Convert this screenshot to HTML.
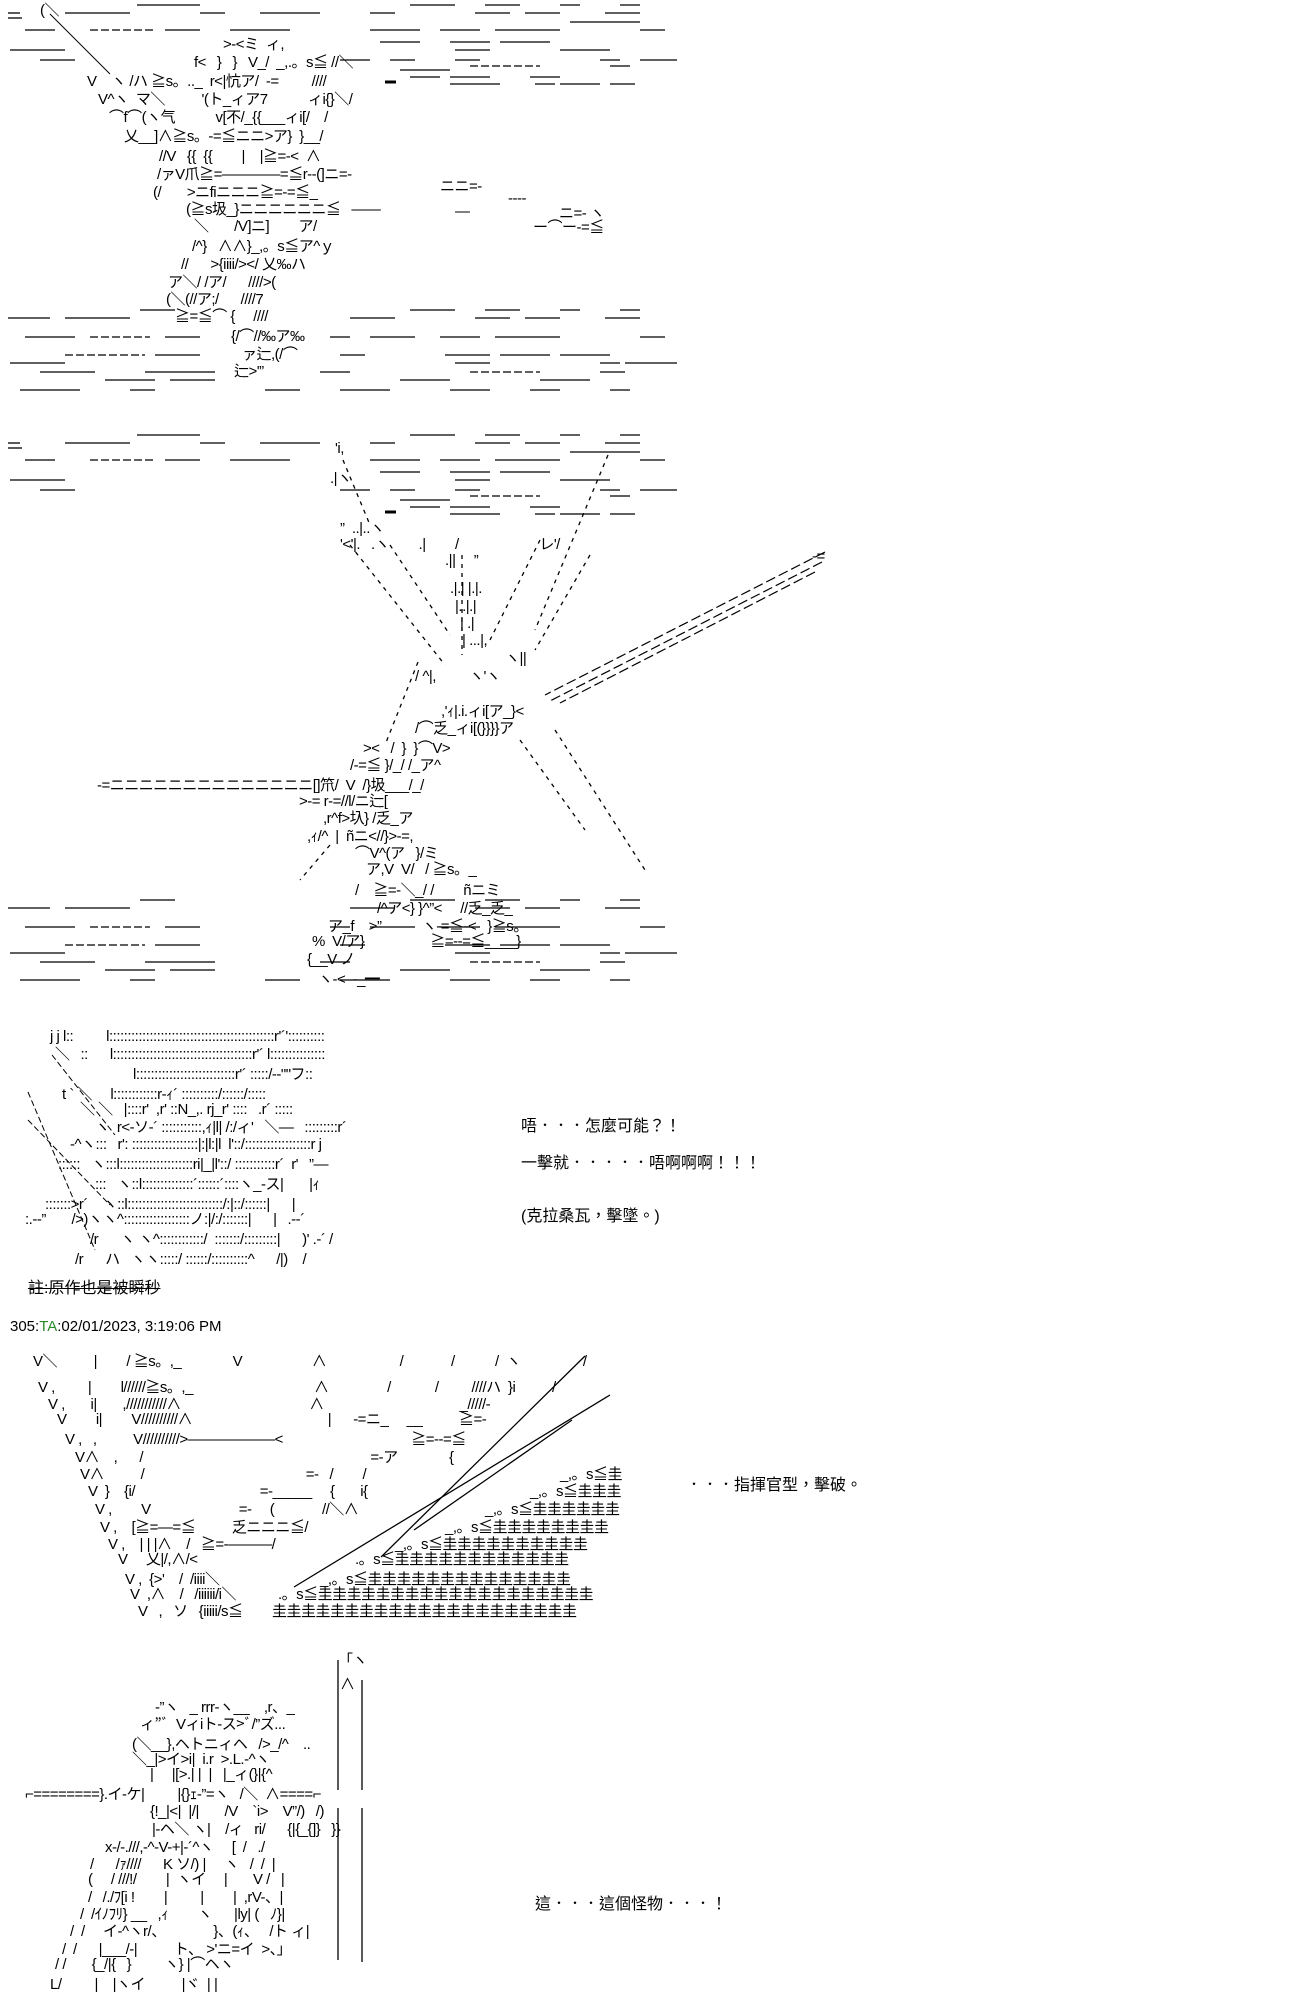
<!DOCTYPE html>
<html><head><meta charset="utf-8">
<style>
html,body{margin:0;padding:0;background:#fff;width:1300px;height:2000px;overflow:hidden}
body{position:relative}
.a{position:absolute;white-space:pre;font:15px/18px "Liberation Sans","Noto Sans CJK JP",sans-serif;color:#000;letter-spacing:-0.5px}
.t{position:absolute;white-space:pre;font:16px/20px "Liberation Sans","Noto Sans CJK TC",sans-serif;color:#000}
svg{position:absolute;left:0;top:0}
</style></head><body>
<svg width="1300" height="2000" stroke="#000" stroke-width="1.3" fill="none">
<g id="d1">
<line x1="137" y1="5" x2="200" y2="5"/><line x1="410" y1="5" x2="455" y2="5"/><line x1="485" y1="5" x2="520" y2="5"/><line x1="560" y1="5" x2="580" y2="5"/><line x1="620" y1="5" x2="640" y2="5"/>
<line x1="8" y1="13" x2="20" y2="13"/><line x1="65" y1="13" x2="130" y2="13"/><line x1="200" y1="13" x2="225" y2="13"/><line x1="260" y1="13" x2="320" y2="13"/><line x1="370" y1="13" x2="395" y2="13"/><line x1="475" y1="13" x2="510" y2="13"/><line x1="525" y1="13" x2="560" y2="13"/><line x1="605" y1="13" x2="640" y2="13"/>
<line x1="570" y1="22" x2="640" y2="22"/><line x1="8" y1="18" x2="22" y2="18"/>
<line x1="25" y1="30" x2="55" y2="30"/><line x1="90" y1="30" x2="155" y2="30" stroke-dasharray="8 3"/><line x1="165" y1="30" x2="200" y2="30"/><line x1="230" y1="30" x2="290" y2="30"/><line x1="370" y1="30" x2="420" y2="30"/><line x1="440" y1="30" x2="480" y2="30"/><line x1="495" y1="30" x2="560" y2="30"/><line x1="640" y1="30" x2="665" y2="30"/>
<line x1="380" y1="42" x2="420" y2="42"/><line x1="450" y1="42" x2="490" y2="42"/><line x1="500" y1="42" x2="550" y2="42"/>
<line x1="10" y1="50" x2="65" y2="50"/><line x1="455" y1="50" x2="490" y2="50"/><line x1="560" y1="50" x2="610" y2="50"/>
<line x1="40" y1="60" x2="75" y2="60"/><line x1="340" y1="60" x2="370" y2="60"/><line x1="390" y1="60" x2="415" y2="60"/><line x1="455" y1="60" x2="480" y2="60"/><line x1="600" y1="60" x2="620" y2="60"/><line x1="640" y1="60" x2="677" y2="60"/>
<line x1="400" y1="70" x2="450" y2="70"/><line x1="470" y1="66" x2="540" y2="66" stroke-dasharray="8 3"/><line x1="610" y1="66" x2="630" y2="66"/>
<line x1="410" y1="77" x2="440" y2="77"/><line x1="450" y1="77" x2="490" y2="77"/><line x1="530" y1="77" x2="560" y2="77"/>
<line x1="385" y1="82" x2="396" y2="82" stroke-width="3"/><line x1="450" y1="84" x2="500" y2="84"/><line x1="535" y1="84" x2="555" y2="84"/><line x1="560" y1="84" x2="600" y2="84"/><line x1="610" y1="84" x2="635" y2="84"/>
</g>
<g id="d2">
<line x1="140" y1="310" x2="175" y2="310"/><line x1="410" y1="310" x2="455" y2="310"/><line x1="485" y1="310" x2="520" y2="310"/><line x1="560" y1="310" x2="580" y2="310"/><line x1="620" y1="310" x2="640" y2="310"/>
<line x1="8" y1="318" x2="50" y2="318"/><line x1="65" y1="318" x2="130" y2="318"/><line x1="350" y1="318" x2="395" y2="318"/><line x1="475" y1="318" x2="510" y2="318"/><line x1="525" y1="318" x2="560" y2="318"/><line x1="605" y1="318" x2="640" y2="318"/>
<line x1="25" y1="337" x2="75" y2="337"/><line x1="90" y1="337" x2="150" y2="337" stroke-dasharray="8 3"/><line x1="165" y1="337" x2="200" y2="337"/><line x1="330" y1="337" x2="350" y2="337"/><line x1="370" y1="337" x2="415" y2="337"/><line x1="440" y1="337" x2="480" y2="337"/><line x1="495" y1="337" x2="560" y2="337"/><line x1="640" y1="337" x2="665" y2="337"/>
<line x1="65" y1="355" x2="145" y2="355" stroke-dasharray="8 3"/><line x1="155" y1="355" x2="200" y2="355"/><line x1="340" y1="355" x2="365" y2="355"/><line x1="445" y1="355" x2="490" y2="355"/><line x1="500" y1="355" x2="550" y2="355"/><line x1="560" y1="355" x2="610" y2="355"/>
<line x1="10" y1="363" x2="65" y2="363"/><line x1="455" y1="363" x2="490" y2="363"/><line x1="600" y1="363" x2="620" y2="363"/><line x1="625" y1="363" x2="677" y2="363"/>
<line x1="40" y1="372" x2="95" y2="372"/><line x1="145" y1="372" x2="215" y2="372"/><line x1="320" y1="372" x2="350" y2="372"/><line x1="470" y1="372" x2="540" y2="372" stroke-dasharray="8 3"/><line x1="600" y1="372" x2="625" y2="372"/>
<line x1="105" y1="380" x2="155" y2="380"/><line x1="170" y1="380" x2="215" y2="380"/><line x1="400" y1="380" x2="450" y2="380"/><line x1="540" y1="380" x2="590" y2="380"/>
<line x1="20" y1="390" x2="80" y2="390"/><line x1="130" y1="390" x2="155" y2="390"/><line x1="265" y1="390" x2="300" y2="390"/><line x1="340" y1="390" x2="390" y2="390"/><line x1="450" y1="390" x2="490" y2="390"/><line x1="530" y1="390" x2="560" y2="390"/><line x1="610" y1="390" x2="630" y2="390"/>
</g>
<use href="#d1" x="0" y="430"/>
<use href="#d2" x="0" y="590"/>
<line x1="50" y1="14" x2="110" y2="74" stroke-width="1"/>
<g stroke-dasharray="4 5">
<line x1="343" y1="460" x2="370" y2="525"/><line x1="350" y1="545" x2="445" y2="665"/><line x1="390" y1="545" x2="450" y2="635"/>
<line x1="462" y1="555" x2="462" y2="655"/><line x1="608" y1="455" x2="535" y2="630"/><line x1="540" y1="540" x2="490" y2="640"/><line x1="590" y1="555" x2="535" y2="650"/>
<line x1="418" y1="662" x2="385" y2="745"/><line x1="520" y1="740" x2="585" y2="830"/><line x1="555" y1="730" x2="645" y2="870"/>
<line x1="330" y1="845" x2="300" y2="880"/>
</g>
<g stroke-dasharray="10 4" stroke-width="1.2">
<line x1="825" y1="552" x2="545" y2="695"/><line x1="822" y1="562" x2="548" y2="702"/><line x1="815" y1="572" x2="560" y2="703"/>
</g>
<g stroke-width="1" stroke-dasharray="6 3">
<line x1="28" y1="1092" x2="95" y2="1250"/><line x1="28" y1="1120" x2="110" y2="1205"/><line x1="52" y1="1055" x2="115" y2="1135"/>
</g>
<line x1="610" y1="1395" x2="294" y2="1587"/><line x1="585" y1="1356" x2="381" y2="1557"/><line x1="572" y1="1420" x2="414" y2="1530"/>
<line x1="338" y1="1660" x2="338" y2="1790"/><line x1="362" y1="1680" x2="362" y2="1790"/><line x1="338" y1="1808" x2="338" y2="1960"/><line x1="362" y1="1808" x2="362" y2="1962"/>
</svg>

<div class="a" style="left:40px;top:2px">(＼</div>
<div class="a" style="left:223px;top:36px">&gt;-&lt;ミ  ィ,</div>
<div class="a" style="left:194px;top:54px">f&lt;   }   }   V_/  _,.。s≦ //＼</div>
<div class="a" style="left:87px;top:73px">V    ヽ /ハ ≧s。.._  r&lt;|忼ア/  -=         ////</div>
<div class="a" style="left:98px;top:91px">V^ヽ  マ＼          '(ト_ィア7           ィi{}＼/</div>
<div class="a" style="left:109px;top:109px">⌒f⌒(ヽ气           v[不/_{{___ィi[/    /</div>
<div class="a" style="left:124px;top:128px">乂__]∧≧s。-=≦ニニ&gt;ア}  }__/</div>
<div class="a" style="left:159px;top:148px">//V   {{  {{        |    |≧=-&lt;  ∧</div>
<div class="a" style="left:157px;top:166px">/ァV爪≧=――――=≦r--(]ニ=-</div>
<div class="a" style="left:153px;top:184px">(/       &gt;ニfiニニニ≧=-=≦_</div>
<div class="a" style="left:440px;top:178px">ニニ=-</div>
<div class="a" style="left:186px;top:201px">(≧s圾_}ニニニニニニ≦   ――</div>
<div class="a" style="left:508px;top:190px">----</div>
<div class="a" style="left:455px;top:203px">―</div>
<div class="a" style="left:559px;top:205px">ニ=- ヽ</div>
<div class="a" style="left:533px;top:219px">ー⌒ー-=≦</div>
<div class="a" style="left:194px;top:218px">＼       /V]ニ]        ア/</div>
<div class="a" style="left:192px;top:238px">/^}   ∧∧}_,。s≦ア^ｙ</div>
<div class="a" style="left:181px;top:256px">//      &gt;{iiii/&gt;&lt;/ 乂‰ハ</div>
<div class="a" style="left:168px;top:274px">ア＼/ /ア/      ////&gt;(</div>
<div class="a" style="left:166px;top:291px">(＼(//ア;/      ////7</div>
<div class="a" style="left:175px;top:308px">≧=≦⌒ {     ////</div>
<div class="a" style="left:231px;top:328px">{/⌒//‰ア‰</div>
<div class="a" style="left:242px;top:346px">ァ辷,(/⌒</div>
<div class="a" style="left:234px;top:363px">辷&gt;'”</div>

<div class="a" style="left:335px;top:440px">'i,</div>
<div class="a" style="left:330px;top:470px">.|ヽ</div>
<div class="a" style="left:340px;top:520px">”  ..|..ヽ</div>
<div class="a" style="left:340px;top:536px">'&lt;'|.   .ヽ        .|        /                      レ'/</div>
<div class="a" style="left:445px;top:552px">.||     ”</div>
<div class="a" style="left:450px;top:580px">.|.| |.|.</div>
<div class="a" style="left:455px;top:598px">|..|.|</div>
<div class="a" style="left:460px;top:615px">| .|</div>
<div class="a" style="left:462px;top:632px">| ...|,</div>
<div class="a" style="left:505px;top:650px">ヽ||</div>
<div class="a" style="left:415px;top:668px">/ ^|,         ヽ'ヽ</div>
<div class="a" style="left:441px;top:703px">,'ｨ|.i.ィi[ア_}&lt;</div>
<div class="a" style="left:415px;top:720px">/⌒乏_ィi[(}}}}ア</div>
<div class="a" style="left:363px;top:740px">&gt;&lt;   /  }  }⌒V&gt;</div>
<div class="a" style="left:350px;top:757px">/-=≦ }/_/ /_ア^</div>
<div class="a" style="left:97px;top:777px">-=ニニニニニニニニニニニニニニ[]笊/  V  /}圾___/_/</div>
<div class="a" style="left:299px;top:793px">&gt;-= r-=//l/ニ辷[</div>
<div class="a" style="left:323px;top:810px">,r^f&gt;圦} /乏_ア</div>
<div class="a" style="left:307px;top:828px">,ｨ/^  |  ñニ&lt;//}&gt;-=,</div>
<div class="a" style="left:355px;top:845px">⌒V^(ア   }/ミ</div>
<div class="a" style="left:366px;top:861px">ア,V  V/   / ≧s。_</div>
<div class="a" style="left:355px;top:882px">/    ≧=-＼_/ /        ñニミ</div>
<div class="a" style="left:377px;top:900px">/^ア&lt;} }^”&lt;     //乏_乏_</div>
<div class="a" style="left:328px;top:918px">ア_f    &gt;”           ヽ-=≦-&lt;   }≧s。</div>
<div class="a" style="left:312px;top:933px">%  V/ア}                  ≧=--=≦____}</div>
<div class="a" style="left:307px;top:951px">{__V ノ</div>
<div class="a" style="left:318px;top:971px">ヽ-&lt;  -_━</div>
<div class="a" style="left:812px;top:548px">-=</div>

<div class="a" style="left:50px;top:1028px">j j l::         l:::::::::::::::::::::::::::::::::::::::::::::r'´'::::::::::</div>
<div class="a" style="left:55px;top:1046px">＼   ::      l::::::::::::::::::::::::::::::::::::::r'´ l:::::::::::::::</div>
<div class="a" style="left:133px;top:1066px">l:::::::::::::::::::::::::::r'´ :::::/--""フ::</div>
<div class="a" style="left:62px;top:1086px">t ` ＼     l::::::::::::r-ｨ´ ::::::::::/::::::/:::::</div>
<div class="a" style="left:80px;top:1101px">＼ ＼   |::::r'  ,r' ::N_,. rj_r' ::::   .r´ :::::</div>
<div class="a" style="left:95px;top:1119px">ヽ  r&lt;-ソ-´ :::::::::::,ｨ|l| /:/ィ'   ＼―   :::::::::r´</div>
<div class="a" style="left:70px;top:1136px">-^ヽ:::   r': ::::::::::::::::::|:|l:|l  l'::/::::::::::::::::::r j</div>
<div class="a" style="left:58px;top:1156px">::::::   ヽ:::l::::::::::::::::::::ri|_|l'::/ :::::::::::r´  r'   ”―</div>
<div class="a" style="left:95px;top:1176px">:::   ヽ::l::::::::::::::´::::::´::::ヽ_-ス|       |ｨ</div>
<div class="a" style="left:45px;top:1196px">:::::::&gt;r´    ヽ::l::::::::::::::::::::::::::/:|::/::::::|      |</div>
<div class="a" style="left:25px;top:1211px">:.--”       /&gt;)ヽヽ^::::::::::::::::::ノ:|/:/:::::::|      |   .--´</div>
<div class="a" style="left:90px;top:1231px">/r      ヽ ヽ^::::::::::::/  :::::::/:::::::::|      )' .-´ /</div>
<div class="a" style="left:75px;top:1251px">/r      ハ   ヽヽ:::::/ ::::::/::::::::::^      /|)    /</div>

<div class="t" style="left:521px;top:1117px">唔．．．怎麼可能？！</div>
<div class="t" style="left:521px;top:1154px">一擊就．．．．．唔啊啊啊！！！</div>
<div class="t" style="left:521px;top:1207px">(克拉桑瓦，擊墜。)</div>
<div class="t" style="left:28px;top:1279px;text-decoration:line-through">註:原作也是被瞬秒</div>
<div class="t" style="left:10px;top:1317px;font-size:15px">305:<span style="color:#2a8a2a">TA</span>:02/01/2023, 3:19:06 PM</div>

<div class="a" style="left:33px;top:1353px">V＼          |        / ≧s。,_              V                   ∧                    /             /           /  ヽ                 /</div>
<div class="a" style="left:38px;top:1379px">V ,         |        l//////≧s。,_                                 ∧                /            /         ////ハ  }i          /</div>
<div class="a" style="left:48px;top:1396px">V ,       i|       ,///////////∧                                   ∧                                     _/////-</div>
<div class="a" style="left:57px;top:1411px">V        i|        V//////////∧                                     |      -=ニ_     __          ≧=-</div>
<div class="a" style="left:65px;top:1431px">V ,   ,          V//////////&gt;――――――&lt;                                   ≧=--=≦</div>
<div class="a" style="left:75px;top:1449px">V∧    ,      /                                                              =-ア              {</div>
<div class="a" style="left:80px;top:1466px">V∧          /                                            =-   /        /</div>
<div class="a" style="left:88px;top:1483px">V  }    {i/                                  =-_____     {       i{</div>
<div class="a" style="left:95px;top:1501px">V ,        V                        =-     (             //＼∧</div>
<div class="a" style="left:100px;top:1519px">V ,    [≧=―=≦          乏ニニニ≦/</div>
<div class="a" style="left:108px;top:1536px">V ,    | | |∧    /   ≧=-―――/</div>
<div class="a" style="left:118px;top:1551px">V     乂|/,∧/&lt;</div>
<div class="a" style="left:125px;top:1571px">V ,  {&gt;'    /  /iiii＼</div>
<div class="a" style="left:130px;top:1586px">V  ,∧    /   /iiiiii/i＼</div>
<div class="a" style="left:138px;top:1603px">V   ,   ソ   {iiiii/s≦</div>
<div class="a" style="left:560px;top:1466px">_,。s≦圭</div>
<div class="a" style="left:530px;top:1483px">_,。s≦圭圭圭</div>
<div class="a" style="left:485px;top:1501px">_,。s≦圭圭圭圭圭圭</div>
<div class="a" style="left:445px;top:1519px">_,。s≦圭圭圭圭圭圭圭圭</div>
<div class="a" style="left:395px;top:1536px">_,。s≦圭圭圭圭圭圭圭圭圭圭</div>
<div class="a" style="left:355px;top:1551px">.。s≦圭圭圭圭圭圭圭圭圭圭圭圭</div>
<div class="a" style="left:320px;top:1571px">_,。s≦圭圭圭圭圭圭圭圭圭圭圭圭圭圭</div>
<div class="a" style="left:278px;top:1586px">.。s≦圭圭圭圭圭圭圭圭圭圭圭圭圭圭圭圭圭圭圭</div>
<div class="a" style="left:272px;top:1603px">圭圭圭圭圭圭圭圭圭圭圭圭圭圭圭圭圭圭圭圭圭</div>
<div class="t" style="left:686px;top:1476px">．．．指揮官型，擊破。</div>

<div class="a" style="left:338px;top:1652px">「ヽ</div>
<div class="a" style="left:340px;top:1676px">∧</div>
<div class="a" style="left:155px;top:1699px">-”ヽ   _ rrr-ヽ__    ,r、_</div>
<div class="a" style="left:140px;top:1716px">ィ”ﾞ  Vィiト-ス&gt;ﾞ/”ズ...</div>
<div class="a" style="left:132px;top:1736px">(＼__},ヘトニィヘ   /&gt;_/^    ..</div>
<div class="a" style="left:132px;top:1751px">＼_|&gt;イ&gt;i|  i.r  &gt;.L.-^ヽ</div>
<div class="a" style="left:150px;top:1766px">|     |[&gt;.| |  |   |_ィ(}|{^</div>
<div class="a" style="left:25px;top:1786px">⌐========}.イ-ケ|         |{}ｪ-”=ヽ   /＼  ∧====⌐</div>
<div class="a" style="left:150px;top:1803px">{!_|&lt;|  |/|       /V    `i&gt;    V”/)   /)</div>
<div class="a" style="left:152px;top:1821px">|-ヘ＼ ヽ|    /ィ   ri/      {|{_{]}   }}</div>
<div class="a" style="left:105px;top:1839px">x-/-.///,-^-V-+|-´^ヽ     [  /   ./</div>
<div class="a" style="left:90px;top:1856px">/      /ｧ////      K ソ/) |     ヽ   /  /  |</div>
<div class="a" style="left:88px;top:1871px">(     / ///!/        |  ヽイ     |       V /   |</div>
<div class="a" style="left:88px;top:1889px">/   /./ﾌ[i !        |         |        |  ,rV-、|</div>
<div class="a" style="left:80px;top:1906px">/  /ｲﾉﾌﾘ} __   ,ｨ        ヽ      |ly| (   ﾉ}|</div>
<div class="a" style="left:70px;top:1923px">/  /     イ-^ヽr/、             }、(ｨ、   /ト ィ|</div>
<div class="a" style="left:62px;top:1941px">/  /      |___/-|          ト、 &gt;'ニ=イ  &gt;、」</div>
<div class="a" style="left:55px;top:1956px">/ /       {_/|{   }         ヽ} |⌒ヘヽ</div>
<div class="a" style="left:50px;top:1976px">L/         |    |ヽイ          |ヾ  | |</div>
<div class="t" style="left:535px;top:1895px">這．．．這個怪物．．．！</div>
</body></html>
